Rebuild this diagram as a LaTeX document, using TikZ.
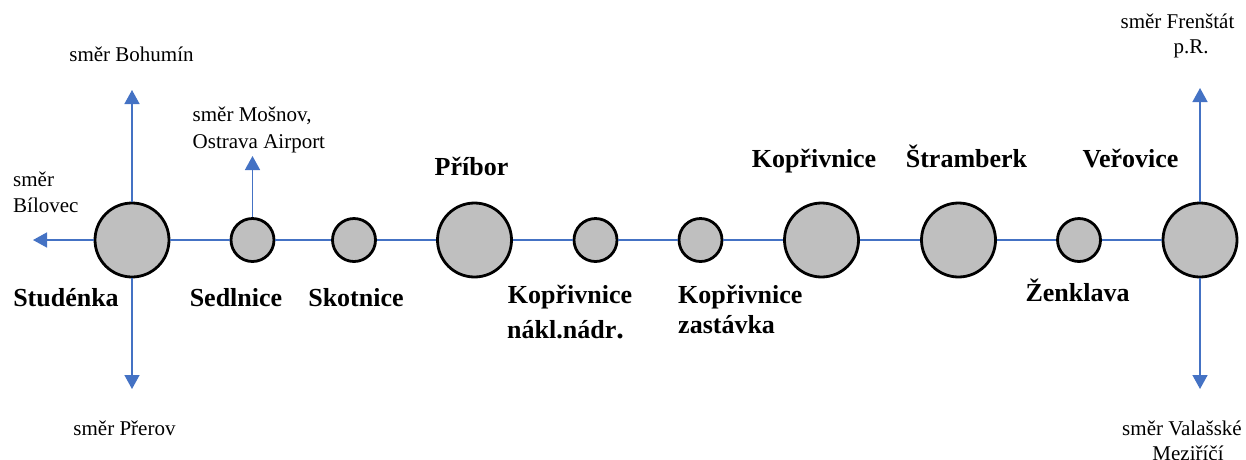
\documentclass[tikz,border=0pt]{standalone}
\usepackage{fontspec}
\setmainfont{Liberation Serif}
\usetikzlibrary{arrows.meta}
\definecolor{lineblue}{HTML}{4472C4}
\definecolor{stgray}{HTML}{BFBFBF}
\tikzset{
  bigst/.style={circle,draw=black,line width=2.8pt,fill=stgray,minimum size=74pt,inner sep=0pt},
  smallst/.style={circle,draw=black,line width=2.8pt,fill=stgray,minimum size=43pt,inner sep=0pt},
  track/.style={draw=lineblue,line width=1.3pt},
  dir/.style={draw=lineblue,line width=1.5pt,-{Triangle[width=15pt,length=14pt]}},
  lbl/.style={font=\fontsize{26}{30}\selectfont\bfseries,inner sep=0pt,anchor=base},
  sml/.style={font=\fontsize{21}{25}\selectfont,inner sep=0pt,anchor=base},
}
\begin{document}
\begin{tikzpicture}[x=1pt,y=-1pt]
\useasboundingbox (0,0) rectangle (1246,459);
\clip (0,0) rectangle (1246,459);
% stations
\node[bigst]   (stu) at (132,240) {};
\node[smallst] (sed) at (252.5,240) {};
\node[smallst] (sko) at (354,240) {};
\node[bigst]   (pri) at (474.5,240) {};
\node[smallst] (kna) at (595.5,240) {};
\node[smallst] (kza) at (700.5,240) {};
\node[bigst]   (kop) at (821.5,240) {};
\node[bigst]   (str) at (958.5,240) {};
\node[smallst] (zen) at (1079,240) {};
\node[bigst]   (ver) at (1200,240) {};
% track
\draw[track] (stu) -- (sed);
\draw[track] (sed) -- (sko);
\draw[track] (sko) -- (pri);
\draw[track] (pri) -- (kna);
\draw[track] (kna) -- (kza);
\draw[track] (kza) -- (kop);
\draw[track] (kop) -- (str);
\draw[track] (str) -- (zen);
\draw[track] (zen) -- (ver);
% directions
\coordinate (wBil) at (33,240);
\coordinate (nBoh) at (132,90);
\coordinate (sPre) at (132,389);
\coordinate (nMos) at (252.5,156);
\coordinate (nFre) at (1200,88);
\coordinate (sVal) at (1200,389);
\draw[dir] (stu) -- (wBil);
\draw[dir] (stu) -- (nBoh);
\draw[dir] (stu) -- (sPre);
\draw[dir] (sed) -- (nMos);
\draw[dir] (ver) -- (nFre);
\draw[dir] (ver) -- (sVal);
% station labels
\node[lbl] (tstu) at (66,306.5) {Studénka};
\node[lbl] (tsed) at (236,306.5) {Sedlnice};
\node[lbl] (tsko) at (356,306.5) {Skotnice};
\node[lbl] (tpri) at (471.5,175) {Příbor};
\node[lbl] (tkna1) at (570,303.5) {Kopřivnice};
\node[lbl,anchor=base west] (tkna2) at (507,338) {nákl.nádr\fontsize{30}{30}\selectfont.};
\node[lbl,anchor=base west] (tkza1) at (678,303.5) {Kopřivnice};
\node[lbl,anchor=base west] (tkza2) at (678,333) {zastávka};
\node[lbl] (tkop) at (814,167) {Kopřivnice};
\node[lbl] (tstr) at (966.5,167) {Štramberk};
\node[lbl] (tver) at (1130.5,167) {Veřovice};
\node[lbl] (tzen) at (1077.5,301.5) {Ženklava};
% direction labels
\node[sml] (dboh) at (131.5,61) {směr Bohumín};
\node[sml,anchor=base west] (dmos1) at (192.5,121.5) {směr Mošnov,};
\node[sml,anchor=base west] (dmos2) at (192.5,148) {Ostrava Airport};
\node[sml,anchor=base west] (dbil1) at (13,186.5) {směr};
\node[sml,anchor=base west] (dbil2) at (13,212.5) {Bílovec};
\node[sml] (dpre) at (124.5,435) {směr Přerov};
\node[sml] (dfre1) at (1177.5,28) {směr Frenštát};
\node[sml] (dfre2) at (1191,53) {p.R.};
\node[sml] (dval1) at (1182,435) {směr Valašské};
\node[sml] (dval2) at (1188,460) {Meziříčí};
\end{tikzpicture}
\end{document}
